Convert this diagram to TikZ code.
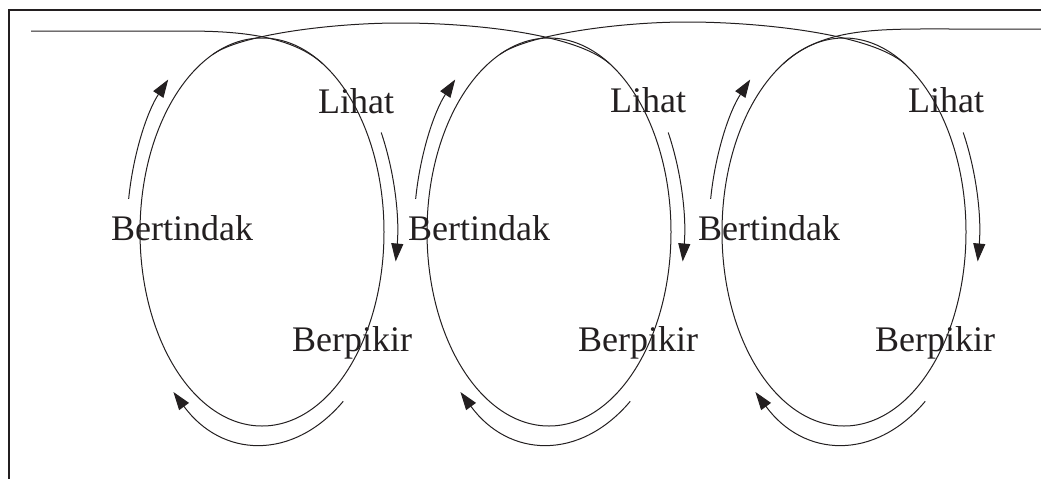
\documentclass[tikz,border=0pt]{standalone}
\usepackage{fontspec}
\setmainfont{Liberation Serif}
\usetikzlibrary{arrows.meta,calc,shapes.geometric}
\definecolor{ink}{RGB}{35,31,32}
\begin{document}
\begin{tikzpicture}[x=1pt,y=1pt,
  loopshape/.style={draw=ink, line width=1pt, ellipse, minimum width=244pt, minimum height=388pt, inner sep=0pt, outer sep=0pt},
  cyc/.style={draw=ink, line width=1pt, -{Triangle[length=18pt,width=12pt]}},
  link/.style={draw=ink, line width=1pt},
  lbl/.style={anchor=base west, inner sep=0pt, text=ink, font=\fontsize{36}{40}\selectfont},
  framestyle/.style={draw=ink, line width=2pt}]
\useasboundingbox (0,0) rectangle (1041,-479);

% frame (top and left only)
\coordinate (fbl) at (9,-479);
\coordinate (ftl) at (9,-10);
\coordinate (ftr) at (1041,-10);
\draw[framestyle] (fbl) -- (ftl) -- (ftr);

% centres
\coordinate (c1) at (262,-232);
\coordinate (c2) at (549,-232);
\coordinate (c3) at (844,-232);

% ellipses
\node[loopshape] (e1) at (c1) {};
\node[loopshape] (e2) at (c2) {};
\node[loopshape] (e3) at (c3) {};

% connecting top curves
\coordinate (a0) at (31,-31);
\coordinate (a1) at (180,-31);
\coordinate (a2) at ($(c1)+(60:122 and 194)$);
\draw[link] (a0) -- (a1) .. controls (225,-31) and (288,-32) .. (a2);

\coordinate (b0) at ($(c1)+(113.6:122 and 194)$);
\coordinate (bp) at (400,-23);
\coordinate (b2) at ($(c2)+(60:122 and 194)$);
\draw[link] (b0) .. controls (240,-35) and (330,-23) .. (bp)
  .. controls (470,-23) and (575,-33) .. (b2);

\coordinate (k0) at ($(c2)+(113.6:122 and 194)$);
\coordinate (kp) at (687,-22);
\coordinate (k2) at ($(c3)+(60:122 and 194)$);
\draw[link] (k0) .. controls (527,-35) and (617,-22) .. (kp)
  .. controls (757,-22) and (870,-33) .. (k2);

\coordinate (d0) at ($(c3)+(120:122 and 194)$);
\coordinate (d1) at (950,-29);
\coordinate (d2) at (1041,-29);
\draw[link] (d0) .. controls (823,-27) and (880,-29) .. (d1) -- (d2);

% cycle arrows
\foreach \c in {c1,c2,c3}{
  \draw[cyc] ($(\c)+(171:135 and 212)$) arc[start angle=171, end angle=134, x radius=135, y radius=212];
  \draw[cyc] ($(\c)+(28:135 and 212)$) arc[start angle=28, end angle=-8, x radius=135, y radius=212];
  \draw[cyc] ($(\c)+(-53:135 and 212)$) arc[start angle=-53, end angle=-131, x radius=135, y radius=212];
}

% labels
\node[lbl] (l1) at (318,-113) {Lihat};
\node[lbl] (l2) at (610,-112) {Lihat};
\node[lbl] (l3) at (908,-112) {Lihat};
\node[lbl] (t1) at (111,-240) {Bertindak};
\node[lbl] (t2) at (408,-240) {Bertindak};
\node[lbl] (t3) at (698,-240) {Bertindak};
\node[lbl] (p1) at (292,-351) {Berpikir};
\node[lbl] (p2) at (578,-351) {Berpikir};
\node[lbl] (p3) at (875,-351) {Berpikir};
\end{tikzpicture}
\end{document}
